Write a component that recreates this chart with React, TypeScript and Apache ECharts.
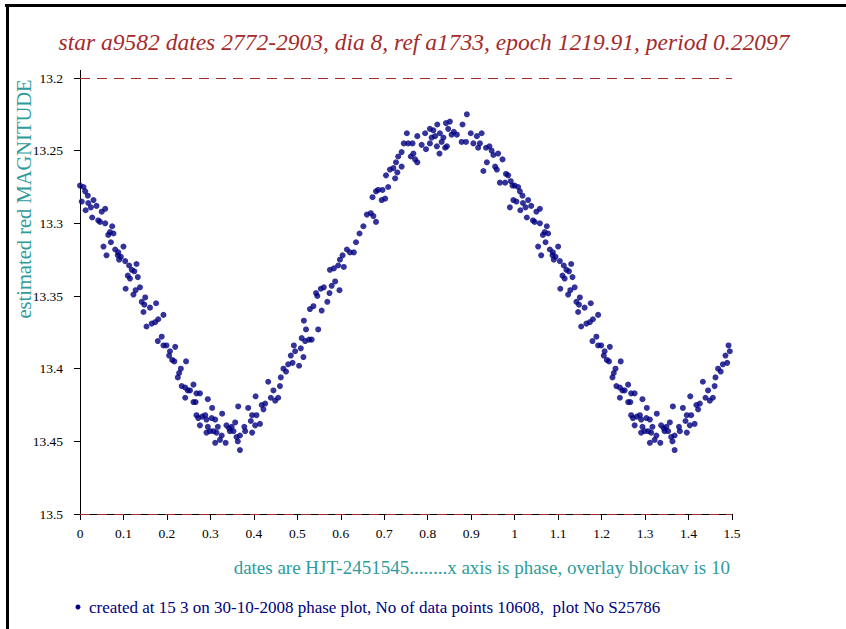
import React, { useEffect, useRef } from "react";
import * as echarts from "echarts";

const titleText = "star a9582 dates 2772-2903, dia 8, ref a1733, epoch 1219.91, period 0.22097";
const yAxisTitle = "estimated red MAGNITUDE";
const xAxisTitle = "dates are HJT-2451545........x axis is phase, overlay blockav is 10";
const footerText = "created at 15 3 on 30-10-2008 phase plot, No of data points 10608,  plot No S25786";

const yTicks = { min: 13.2, max: 13.5, interval: 0.05 };
const xTicks = { min: 0, max: 1.5, interval: 0.1 };
const overlayLevels = [13.2, 13.5];

// phase (one cycle, 0..1) and estimated red magnitude
const phase = [
  0.000, 0.008, 0.012, 0.004, 0.018, 0.019, 0.031, 0.025, 0.013, 0.038, 0.050, 0.058, 0.028, 0.042, 0.046, 0.058,
  0.074, 0.069, 0.077, 0.065, 0.071, 0.054, 0.081, 0.088, 0.100, 0.061, 0.087, 0.094, 0.090, 0.104, 0.113, 0.130,
  0.119, 0.125, 0.110, 0.115, 0.133, 0.138, 0.105, 0.128, 0.123, 0.150, 0.142, 0.148, 0.161, 0.175, 0.146, 0.192,
  0.180, 0.173, 0.165, 0.153, 0.188, 0.179, 0.192,
  0.199, 0.207, 0.205, 0.219, 0.212, 0.217, 0.244, 0.232, 0.228, 0.225, 0.234, 0.242, 0.248, 0.261, 0.253, 0.268,
  0.276, 0.242, 0.261, 0.266, 0.294, 0.304, 0.268, 0.272, 0.281, 0.288, 0.291, 0.303, 0.311, 0.327, 0.276, 0.294,
  0.317, 0.299, 0.291, 0.307, 0.314, 0.337, 0.343, 0.349, 0.357, 0.345, 0.353, 0.364, 0.378, 0.380, 0.368, 0.360,
  0.326, 0.322, 0.311, 0.335, 0.363, 0.368, 0.387, 0.396, 0.393, 0.403, 0.406, 0.414, 0.396, 0.404, 0.418, 0.426,
  0.422, 0.433, 0.439, 0.445, 0.449, 0.460, 0.462, 0.468, 0.456,
  0.474, 0.479, 0.489, 0.504, 0.485, 0.495, 0.492, 0.514, 0.508, 0.518, 0.510, 0.527, 0.533, 0.520, 0.548, 0.515,
  0.529, 0.537, 0.556, 0.569, 0.546, 0.543, 0.554, 0.561, 0.579, 0.587, 0.574, 0.597, 0.575, 0.584, 0.594, 0.607,
  0.598, 0.604, 0.614, 0.621, 0.630, 0.635, 0.643, 0.652, 0.660, 0.669, 0.675, 0.681, 0.673, 0.681, 0.686,
  0.694, 0.702, 0.696, 0.709, 0.704, 0.713, 0.721, 0.725, 0.730, 0.727, 0.740, 0.732, 0.740, 0.745, 0.752, 0.755,
  0.765, 0.761, 0.771, 0.776, 0.767, 0.776, 0.786, 0.796, 0.805, 0.794, 0.805, 0.813, 0.822, 0.809, 0.817, 0.827,
  0.821, 0.828, 0.836, 0.832, 0.842, 0.851, 0.847, 0.855, 0.860, 0.867, 0.844, 0.840, 0.880, 0.890, 0.878, 0.888,
  0.899, 0.905, 0.913, 0.920, 0.924, 0.916, 0.934, 0.942, 0.947, 0.951, 0.962, 0.936, 0.928, 0.955, 0.959, 0.972,
  0.980, 0.985, 0.966, 0.978, 0.991, 0.995, 0.997, 0.989,
];

const magnitude = [
  13.274, 13.275, 13.278, 13.285, 13.281, 13.286, 13.284, 13.289, 13.291, 13.288, 13.292, 13.290, 13.296, 13.298, 13.299, 13.300,
  13.302, 13.306, 13.307, 13.308, 13.313, 13.316, 13.318, 13.320, 13.316, 13.322, 13.322, 13.323, 13.325, 13.326, 13.329, 13.328,
  13.332, 13.333, 13.336, 13.338, 13.337, 13.344, 13.345, 13.346, 13.349, 13.351, 13.354, 13.356, 13.358, 13.355, 13.361, 13.363,
  13.366, 13.368, 13.369, 13.371, 13.378, 13.381, 13.384,
  13.384, 13.388, 13.391, 13.385, 13.394, 13.395, 13.395, 13.400, 13.403, 13.406, 13.412, 13.413, 13.415, 13.411, 13.415, 13.417,
  13.417, 13.420, 13.423, 13.423, 13.421, 13.427, 13.432, 13.434, 13.433, 13.432, 13.435, 13.434, 13.435, 13.431, 13.439, 13.440,
  13.440, 13.443, 13.444, 13.443, 13.444, 13.439, 13.441, 13.440, 13.437, 13.443, 13.443, 13.426, 13.440, 13.443, 13.446, 13.447,
  13.446, 13.449, 13.451, 13.451, 13.450, 13.456, 13.427, 13.432, 13.436, 13.439, 13.432, 13.438, 13.444, 13.419, 13.425, 13.424,
  13.428, 13.409, 13.420, 13.415, 13.422, 13.412, 13.406, 13.400, 13.420,
  13.402, 13.397, 13.396, 13.398, 13.391, 13.388, 13.384, 13.392, 13.386, 13.381, 13.379, 13.380, 13.380, 13.373, 13.373, 13.367,
  13.359, 13.357, 13.360, 13.354, 13.350, 13.348, 13.345, 13.344, 13.343, 13.340, 13.348, 13.346, 13.332, 13.331, 13.329, 13.330,
  13.325, 13.322, 13.318, 13.320, 13.320, 13.313, 13.307, 13.302, 13.294, 13.293, 13.295, 13.299, 13.282, 13.278, 13.277,
  13.284, 13.283, 13.277, 13.275, 13.267, 13.263, 13.262, 13.269, 13.265, 13.258, 13.261, 13.254, 13.251, 13.245, 13.238, 13.245,
  13.245, 13.254, 13.256, 13.258, 13.252, 13.240, 13.246, 13.249, 13.245, 13.238, 13.235, 13.236, 13.232, 13.241, 13.240, 13.252,
  13.247, 13.238, 13.241, 13.244, 13.231, 13.230, 13.235, 13.239, 13.237, 13.239, 13.247, 13.248, 13.232, 13.225, 13.244, 13.244,
  13.238, 13.245, 13.240, 13.245, 13.238, 13.248, 13.248, 13.247, 13.250, 13.253, 13.252, 13.258, 13.264, 13.261, 13.263, 13.256,
  13.266, 13.267, 13.272, 13.272, 13.271, 13.274, 13.284, 13.289,
];

const DOT = "#000080";
const RED = "#a52a2a";
const TEAL = "#2e9c9c";
const SERIF = "Liberation Serif";

export default function App() {
  const ref = useRef<HTMLDivElement>(null);

  useEffect(() => {
    if (!ref.current) return;
    const chart = echarts.init(ref.current, null, { renderer: "svg" });

    // phase plot: the first half cycle is overlaid again after phase 1
    const points: number[][] = [];
    for (let i = 0; i < phase.length; i++) {
      points.push([phase[i], magnitude[i]]);
      if (phase[i] <= 0.5) points.push([phase[i] + 1, magnitude[i]]);
    }

    chart.setOption({
      animation: false,
      backgroundColor: "#ffffff",
      grid: { left: 80, top: 78, width: 652, height: 436 },
      xAxis: {
        type: "value",
        min: xTicks.min,
        max: xTicks.max,
        interval: xTicks.interval,
        axisLine: { show: true, onZero: false, lineStyle: { color: "#000", width: 1 } },
        axisTick: { show: true, length: 6, lineStyle: { color: "#000" } },
        axisLabel: { color: "#000", fontFamily: SERIF, fontSize: 13.5, margin: 12 },
        splitLine: { show: false },
      },
      yAxis: {
        type: "value",
        inverse: true,
        min: yTicks.min,
        max: yTicks.max,
        interval: yTicks.interval,
        axisLine: { show: true, onZero: false, lineStyle: { color: "#000", width: 1 } },
        axisTick: { show: true, length: 6, lineStyle: { color: "#000" } },
        axisLabel: { color: "#000", fontFamily: SERIF, fontSize: 13.5, margin: 17 },
        splitLine: { show: false },
      },
      series: [
        {
          type: "scatter",
          data: points,
          symbol: "circle",
          symbolSize: 6,
          itemStyle: { color: DOT },
          markLine: {
            silent: true,
            symbol: "none",
            label: { show: false },
            lineStyle: { color: RED, type: [10, 7], width: 1 },
            data: overlayLevels.map((v) => ({ yAxis: v })),
          },
        },
      ],
      graphic: [
        { type: "rect", shape: { x: 5, y: 4, width: 841, height: 3 }, style: { fill: "#000" } },
        { type: "rect", shape: { x: 6, y: 4, width: 3, height: 625 }, style: { fill: "#000" } },
        { type: "line", shape: { x1: 80.5, y1: 70, x2: 80.5, y2: 78 }, style: { stroke: "#000", lineWidth: 1 } },
        {
          type: "text",
          x: 424,
          y: 42,
          style: {
            text: titleText,
            fill: RED,
            fontFamily: SERIF,
            fontSize: 23.5,
            fontStyle: "italic",
            align: "center",
            verticalAlign: "middle",
            textAlign: "center",
            textVerticalAlign: "middle",
          },
        },
        {
          type: "text",
          x: 24,
          y: 199,
          rotation: Math.PI / 2,
          style: {
            text: yAxisTitle,
            fill: TEAL,
            fontFamily: SERIF,
            fontSize: 20.5,
            align: "center",
            verticalAlign: "middle",
            textAlign: "center",
            textVerticalAlign: "middle",
          },
        },
        {
          type: "text",
          x: 730,
          y: 567,
          style: {
            text: xAxisTitle,
            fill: TEAL,
            fontFamily: SERIF,
            fontSize: 19,
            align: "right",
            verticalAlign: "middle",
            textAlign: "right",
            textVerticalAlign: "middle",
          },
        },
        { type: "circle", shape: { cx: 78, cy: 607, r: 2.5 }, style: { fill: DOT } },
        {
          type: "text",
          x: 89,
          y: 607,
          style: {
            text: footerText,
            fill: DOT,
            fontFamily: SERIF,
            fontSize: 17,
            align: "left",
            verticalAlign: "middle",
            textAlign: "left",
            textVerticalAlign: "middle",
          },
        },
      ],
    });

    return () => chart.dispose();
  }, []);

  return (
    <div
      ref={ref}
      style={{ position: "fixed", left: 0, top: 0, width: 846, height: 629, background: "#fff" }}
    />
  );
}
